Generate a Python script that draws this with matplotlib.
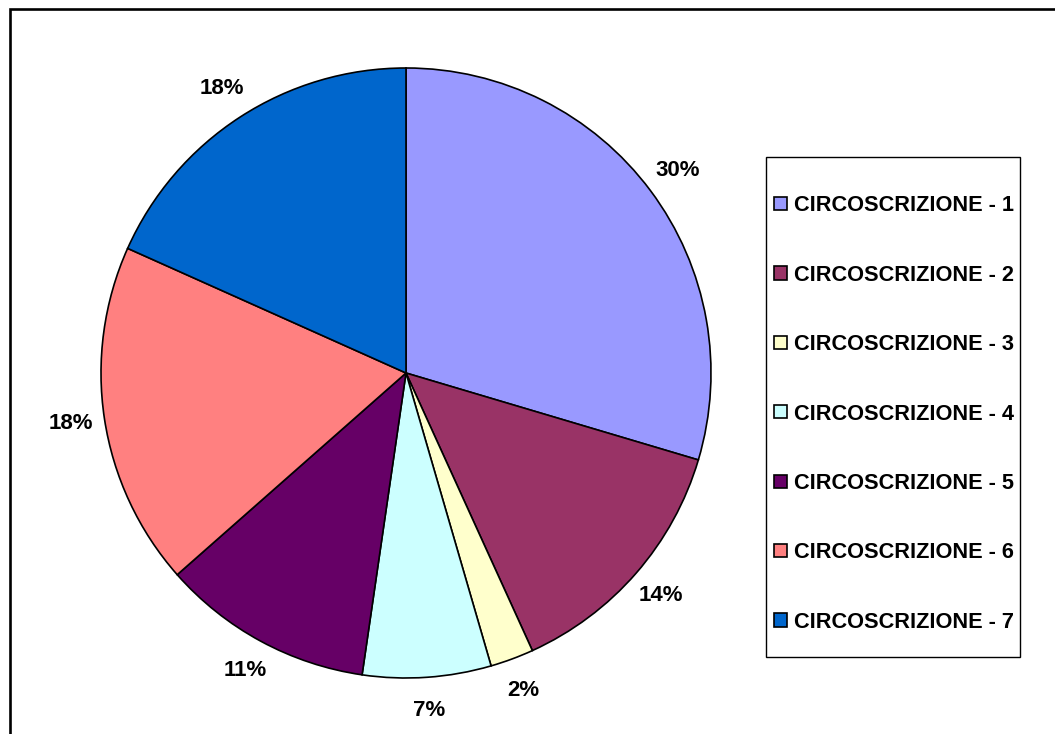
import matplotlib.pyplot as plt
from matplotlib.patches import Rectangle

# dati della torta
labels = ['CIRCOSCRIZIONE - 1', 'CIRCOSCRIZIONE - 2', 'CIRCOSCRIZIONE - 3',
          'CIRCOSCRIZIONE - 4', 'CIRCOSCRIZIONE - 5', 'CIRCOSCRIZIONE - 6',
          'CIRCOSCRIZIONE - 7']
values = [29.6, 13.6, 2.3, 6.8, 11.2, 18.2, 18.3]
colors = ['#9999FF', '#993366', '#FFFFCC', '#CCFFFF', '#660066', '#FF8080', '#0066CC']

plt.rcParams['font.family'] = ['Liberation Sans', 'DejaVu Sans']
plt.rcParams['font.weight'] = 'bold'

fig = plt.figure(figsize=(10.55, 7.34), dpi=100)
ax = fig.add_axes([101 / 1055, 1 - 678 / 734, 610 / 1055, 610 / 734])

wedges, texts, autotexts = ax.pie(
    values, colors=colors, startangle=90, counterclock=False,
    autopct='%1.0f%%', pctdistance=1.11, radius=1,
    wedgeprops=dict(edgecolor='black', linewidth=1.2),
    textprops=dict(fontsize=16, fontweight='bold', color='black'))
ax.set_xlim(-1, 1)
ax.set_ylim(-1, 1)
ax.set_aspect('equal')

# legenda senza cornice, cornice disegnata a parte
leg = fig.legend(wedges, labels, loc='center',
                 bbox_to_anchor=(894 / 1055, 1 - 414 / 734),
                 fontsize=15.7, frameon=False, labelspacing=2.22,
                 handlelength=0.56, handleheight=0.56, handletextpad=0.32,
                 borderpad=0.3)
for t in leg.get_texts():
    t.set_fontweight('bold')

fig.patches.append(Rectangle((766 / 1055, 1 - 657 / 734), 254 / 1055, 500 / 734,
                             transform=fig.transFigure, fill=False,
                             edgecolor='black', linewidth=1.0))

# cornice esterna
fig.patches.append(Rectangle((9.5 / 1055, -0.2), 1.2, 1.2 - 8.5 / 734,
                             transform=fig.transFigure, fill=False,
                             edgecolor='black', linewidth=1.9))

fig.savefig('out.png', dpi=100)
